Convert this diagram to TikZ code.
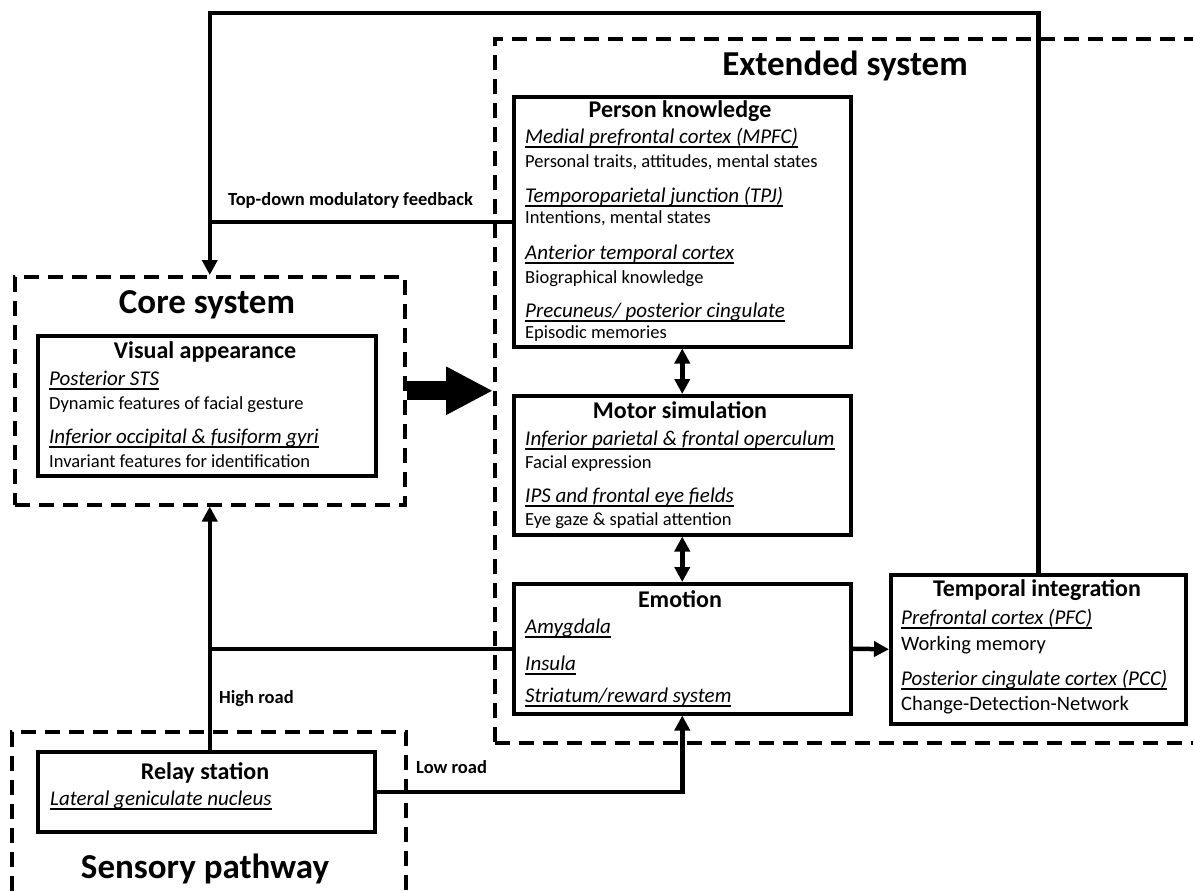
\documentclass[tikz,border=0pt]{standalone}
\usepackage{fontspec}
\setmainfont{Carlito}
\usepackage{tikz}
\usetikzlibrary{arrows.meta}

\newcommand{\brainarea}[1]{\setbox0\hbox{#1}\rlap{\rule[-4.5pt]{\wd0}{1.4pt}}\box0}

\begin{document}
\begin{tikzpicture}[x=1pt,y=-1pt,line cap=rect,
  group/.style={draw, line width=3.5pt, line cap=butt, dash pattern=on 15pt off 9pt, anchor=north west, inner sep=0pt},
  box/.style={draw, line width=3.5pt, anchor=north west, inner sep=0pt},
  grouptitle/.style={font=\fontsize{35pt}{35pt}\bfseries\selectfont, anchor=base, inner sep=0pt},
  boxtitle/.style={font=\fontsize{24pt}{24pt}\bfseries\selectfont, anchor=base, inner sep=0pt},
  txt/.style={font=\fontsize{18.5pt}{18.5pt}\selectfont, anchor=base west, inner sep=0pt},
  bigtxt/.style={font=\fontsize{20.5pt}{20.5pt}\selectfont, anchor=base west, inner sep=0pt},
  areatxt/.style={font=\fontsize{21pt}{21pt}\itshape\selectfont, anchor=base west, inner sep=0pt},
  lbl/.style={font=\fontsize{18.5pt}{18.5pt}\bfseries\selectfont, anchor=base west, inner sep=0pt},
  conn/.style={line width=4.5pt},
  tip/.style={-{Triangle[length=15pt,width=15pt]}},
  bothtips/.style={{Triangle[length=15pt,width=15pt]}-{Triangle[length=15pt,width=15pt]}},
  bigarrow/.style={line width=19pt, line cap=butt, -{Triangle[length=47pt,width=45pt]}}]
  \useasboundingbox (0,0) rectangle (1193,892);
  \clip (0,0) rectangle (1193,892);

  % groups
  \node[group, minimum width=390pt, minimum height=228pt] (core) at (13,275) {};
  \node[group, minimum width=780pt, minimum height=704pt] (ext) at (493,37) {};
  \node[group, minimum width=394pt, minimum height=220pt] (sens) at (10,730) {};
  \node[grouptitle] (coreT) at (207,313) {Core system};
  \node[grouptitle] (extT) at (845,75) {Extended system};
  \node[grouptitle] (sensT) at (205,878) {Sensory pathway};

  % visual appearance
  \node[box, minimum width=338pt, minimum height=140pt] (vis) at (36,334) {};
  \node[boxtitle] (visT) at (205,358) {Visual appearance};
  \node[areatxt] (vis1) at (49,385) {\brainarea{Posterior STS}};
  \node[txt] (vis2) at (49,409) {Dynamic features of facial gesture};
  \node[areatxt] (vis3) at (49,443) {\brainarea{Inferior occipital \& fusiform gyri}};
  \node[txt] (vis4) at (49,467) {Invariant features for identification};

  % person knowledge
  \node[box, minimum width=337pt, minimum height=250pt] (pk) at (512,95) {};
  \node[boxtitle] (pkT) at (680,117) {Person knowledge};
  \node[areatxt] (pk1) at (525,143) {\brainarea{Medial prefrontal cortex (MPFC)}};
  \node[txt] (pk2) at (525,167) {Personal traits, attitudes, mental states};
  \node[areatxt] (pk3) at (525,202) {\brainarea{Temporoparietal junction (TPJ)}};
  \node[txt] (pk4) at (525,223) {Intentions, mental states};
  \node[areatxt] (pk5) at (525,259) {\brainarea{Anterior temporal cortex}};
  \node[txt] (pk6) at (525,283) {Biographical knowledge};
  \node[areatxt] (pk7) at (525,317) {\brainarea{Precuneus/ posterior cingulate}};
  \node[txt] (pk8) at (525,338) {Episodic memories};

  % motor simulation
  \node[box, minimum width=337pt, minimum height=139pt] (motor) at (512,394) {};
  \node[boxtitle] (motorT) at (680,418) {Motor simulation};
  \node[areatxt] (motor1) at (525,445) {\brainarea{Inferior parietal \& frontal operculum}};
  \node[txt] (motor2) at (525,468) {Facial expression};
  \node[areatxt] (motor3) at (525,502) {\brainarea{IPS and frontal eye fields}};
  \node[txt] (motor4) at (525,525) {Eye gaze \& spatial attention};

  % emotion
  \node[box, minimum width=337pt, minimum height=130pt] (emo) at (512,582) {};
  \node[boxtitle] (emoT) at (680,607) {Emotion};
  \node[areatxt] (emo1) at (525,633) {\brainarea{Amygdala}};
  \node[areatxt] (emo2) at (525,670) {\brainarea{Insula}};
  \node[areatxt] (emo3) at (525,702) {\brainarea{Striatum/reward system}};

  % temporal integration
  \node[box, minimum width=295pt, minimum height=149pt] (temp) at (889,573) {};
  \node[boxtitle] (tempT) at (1037,596) {Temporal integration};
  \node[areatxt] (temp1) at (901,624) {\brainarea{Prefrontal cortex (PFC)}};
  \node[bigtxt] (temp2) at (901,650) {Working memory};
  \node[areatxt] (temp3) at (901,685) {\brainarea{Posterior cingulate cortex (PCC)}};
  \node[bigtxt] (temp4) at (901,710) {Change-Detection-Network};

  % relay station
  \node[box, minimum width=337pt, minimum height=80pt] (relay) at (36,750) {};
  \node[boxtitle] (relayT) at (205,779) {Relay station};
  \node[areatxt] (relay1) at (50,805) {\brainarea{Lateral geniculate nucleus}};

  % labels
  \node[lbl] (fbL) at (228,205) {Top-down modulatory feedback};
  \node[lbl] (highL) at (219,703) {High road};
  \node[lbl] (lowL) at (416,773) {Low road};

  % connectors
  \coordinate (fbTop) at (600,13);
  \draw[conn, tip] (temp.north) |- (core.north |- fbTop) -- (core.north);
  \draw[conn] (pk.west) -- (pk.west -| core.north);
  \draw[bigarrow] (core.east) -- (core.east -| ext.west);
  \draw[conn, bothtips] (pk.south) -- (motor.north);
  \draw[conn, bothtips] (motor.south) -- (emo.north);
  \draw[conn, tip] (emo.east) -- (temp.west);
  \draw[conn, tip] (core.south |- relay.north) -- (core.south);
  \draw[conn] (core.south |- emo.west) -- (emo.west);
  \draw[conn, tip] (relay.east) -| (emo.south);
\end{tikzpicture}
\end{document}
